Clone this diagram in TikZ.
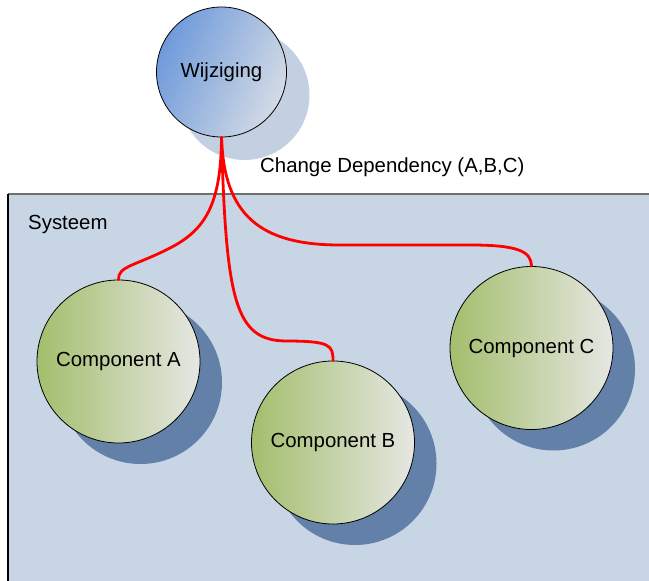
\documentclass[tikz,border=0pt]{standalone}
\usepackage{fontspec}
\setmainfont{Liberation Sans}
\usetikzlibrary{shadows}
\definecolor{panelfill}{HTML}{C8D5E5}
\definecolor{paneltop}{HTML}{6E6E6E}
\definecolor{wblue}{HTML}{6E9ADB}
\definecolor{wlight}{HTML}{D4DBE5}
\definecolor{wshadow}{HTML}{C3D0E1}
\definecolor{cgreen}{HTML}{A3BE6D}
\definecolor{clight}{HTML}{E6E7E3}
\definecolor{cshadow}{HTML}{6380A9}
\definecolor{deplink}{HTML}{FF0000}
\tikzset{
  label text/.style={font=\fontsize{20.4bp}{24bp}\selectfont, text=black},
  changenode/.style={circle, draw=black, line width=0.8bp, minimum size=130bp,
    inner sep=0pt, label text, left color=wblue, middle color=wblue!65!wlight,
    right color=wlight, shading angle=65,
    drop shadow={shadow xshift=23bp, shadow yshift=-23bp, fill=wshadow, opacity=1}},
  compnode/.style={circle, draw=black, line width=0.8bp, minimum size=163bp,
    inner sep=0pt, label text, left color=cgreen, right color=clight,
    drop shadow={shadow xshift=22bp, shadow yshift=-21bp, fill=cshadow, opacity=1}},
  deplinkstyle/.style={draw=deplink, line width=2.8bp, line cap=round},
}
\begin{document}
\begin{tikzpicture}[x=1bp, y=-1bp]
  \useasboundingbox (0,0) rectangle (649,581);
  \clip (0,0) rectangle (649,581);

  % system boundary
  \fill[panelfill] (8,194) rectangle (660,600);
  \draw[paneltop, line width=2bp] (8,194) -- (660,194);
  \draw[black, line width=1.5bp] (8,194) -- (8,600);
  \node[label text, anchor=base west, inner sep=0pt] (sys) at (28,229) {Systeem};

  % change and components
  \node[changenode] (w) at (221.5,72) {Wijziging};
  \node[compnode] (a) at (118.5,361.5) {Component A};
  \node[compnode] (b) at (333,442.5) {Component B};
  \node[compnode] (c) at (531.5,348) {Component C};

  \node[label text, anchor=base west, inner sep=0pt] (dep) at (260,173) {Change Dependency (A,B,C)};

  % dependency links
  \draw[deplinkstyle] (w.south) .. controls (221,205) and (205,230) .. (170,248)
        .. controls (135,266) and (118,266) .. (a.north);
  \draw[deplinkstyle] (w.south) .. controls (226,300) and (235,340) .. (285,341)
        .. controls (330,341) and (333,345) .. (b.north);
  \draw[deplinkstyle] (w.south) .. controls (224,215) and (260,245) .. (340,245)
        -- (470,245) .. controls (520,245) and (531,252) .. (c.north);
\end{tikzpicture}
\end{document}
